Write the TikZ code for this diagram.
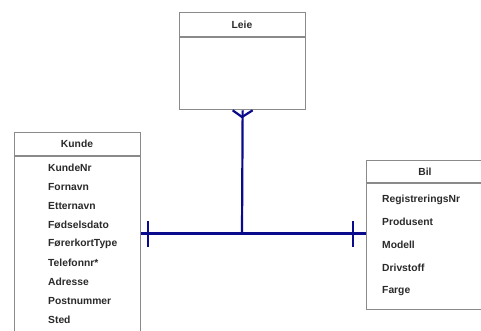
\documentclass[tikz,border=0pt]{standalone}
\usepackage{fontspec}
\setmainfont{Liberation Sans}
\definecolor{boxline}{HTML}{8A8A8A}
\definecolor{relline}{HTML}{0A0A8C}
\definecolor{txt}{HTML}{2A2A2A}
\begin{document}
\begin{tikzpicture}[x=1pt,y=-1pt,
  entity/.style={draw=boxline,line width=1.3pt,fill=white,rectangle,inner sep=0pt,anchor=north west},
  title/.style={font=\bfseries\fontsize{10.3}{12}\selectfont,text=txt},
  attr/.style={font=\bfseries\fontsize{10.3}{12}\selectfont,text=txt,anchor=west,inner sep=0pt},
  rel/.style={draw=relline,line width=2.2pt},
  tick/.style={draw=relline,line width=2pt}]
\useasboundingbox (0,0) rectangle (481,331);
\clip (0,0) rectangle (481,331);
\fill[white] (0,0) rectangle (481,331);

% Leie
\node[entity,minimum width=126pt,minimum height=97pt] (leie) at (179,12) {};
\draw[boxline,line width=1.3pt] (179,37) -- (305,37);
\node[title] (leieT) at (242,24.5) {Leie};

% Kunde
\node[entity,minimum width=126pt,minimum height=220pt] (kunde) at (14,132) {};
\draw[boxline,line width=1.3pt] (14,156) -- (140,156);
\node[title] (kundeT) at (77,144) {Kunde};
\foreach \t [count=\i from 0] in {KundeNr,Fornavn,Etternavn,Fødselsdato,FørerkortType,Telefonnr*,Adresse,Postnummer,Sted}
  \node[attr] (k\i) at (48,168+19*\i) {\t};

% Bil
\node[entity,minimum width=120pt,minimum height=149pt] (bil) at (366,160) {};
\draw[boxline,line width=1.3pt] (366,183) -- (486,183);
\node[title] (bilT) at (425,171.5) {Bil};
\foreach \t [count=\i from 0] in {RegistreringsNr,Produsent,Modell,Drivstoff,Farge}
  \node[attr] (b\i) at (382,199.5+22.8*\i) {\t};

% relationship
\coordinate (J) at (242,233.5);
\coordinate (F) at (242,117);
\draw[rel] (kunde.east |- J) -- (bil.west |- J);
\draw[rel] (leie.south) -- (J);
\draw[rel,line join=miter] ([xshift=-10pt]leie.south) -- (F) -- ([xshift=10pt]leie.south);
\draw[tick] (148,221) -- (148,247);
\draw[tick] (353,221) -- (353,247);
\end{tikzpicture}
\end{document}
